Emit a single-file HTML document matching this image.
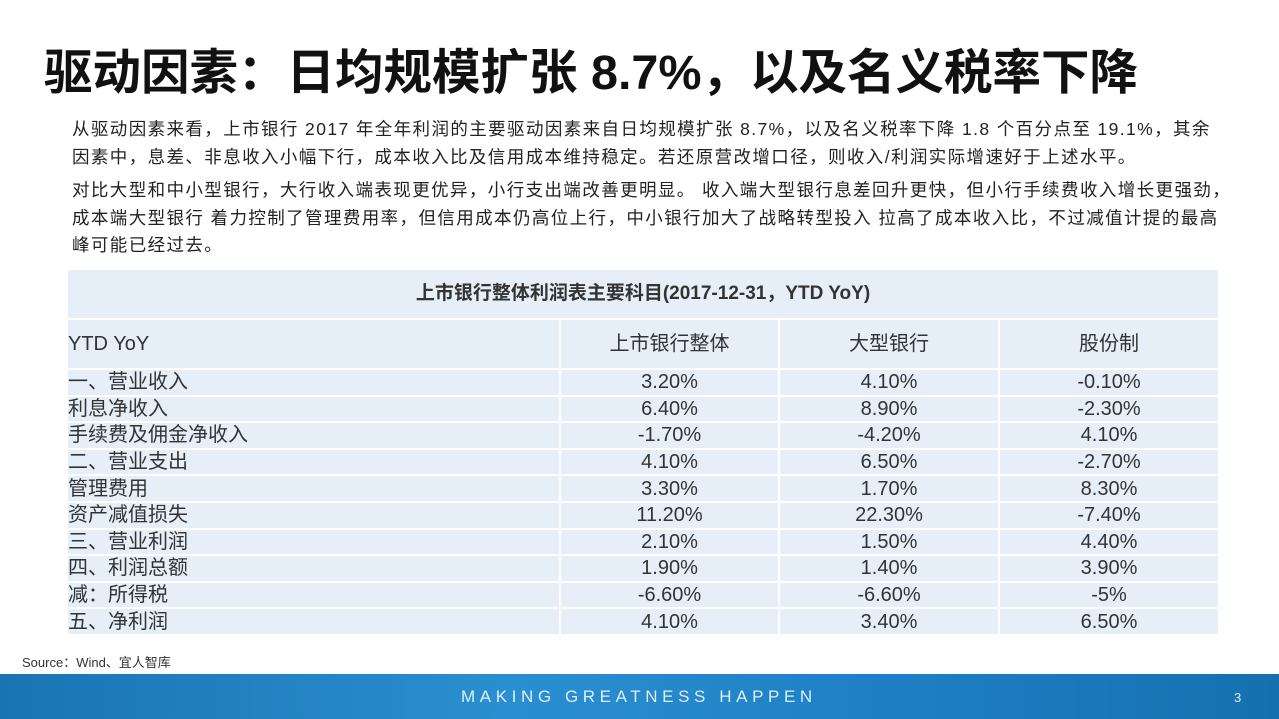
<!DOCTYPE html>
<html><head><meta charset="utf-8"><style>
body{margin:0;width:1279px;height:719px;overflow:hidden;background:#fff;font-family:"Liberation Sans","Noto Sans CJK SC",sans-serif;position:relative}
.t{position:absolute;left:44px;top:33px;font-size:48.5px;font-weight:bold;color:#111;white-space:nowrap}
.p{position:absolute;left:72px;font-size:17.5px;color:#222;line-height:27.5px;white-space:nowrap;letter-spacing:1.4px}
table{position:absolute;left:68px;top:270px;width:1150px;border-collapse:collapse;background:#e6eef8;color:#333}
td{padding:0;border-bottom:2px solid #fff;font-size:20px;height:24.6px;line-height:24px}
td+td{border-left:2px solid #fff;text-align:center}
.cap td{height:48px;text-align:center;font-weight:bold;font-size:19px}
.hd td{height:48px}
.src{position:absolute;left:22px;top:652px;font-size:13px;color:#333}
.foot{position:absolute;left:0;top:674px;width:1279px;height:45px;background:linear-gradient(90deg,#1a74b4,#2a8fd0 40%,#1e7fc4 70%,#1670b0);color:#dfeefa}
</style></head><body>
<div class="t">驱动因素：日均规模扩张 8.7%，以及名义税率下降</div>
<div class="p" style="top:116px">从驱动因素来看，上市银行 2017 年全年利润的主要驱动因素来自日均规模扩张 8.7%，以及名义税率下降 1.8 个百分点至 19.1%，其余<br>因素中，息差、非息收入小幅下行，成本收入比及信用成本维持稳定。若还原营改增口径，则收入/利润实际增速好于上述水平。</div>
<div class="p" style="top:177px">对比大型和中小型银行，大行收入端表现更优异，小行支出端改善更明显。 收入端大型银行息差回升更快，但小行手续费收入增长更强劲，<br>成本端大型银行 着力控制了管理费用率，但信用成本仍高位上行，中小银行加大了战略转型投入 拉高了成本收入比，不过减值计提的最高<br>峰可能已经过去。</div>
<table>
<colgroup><col style="width:492px"><col style="width:219px"><col style="width:220px"><col></colgroup>
<tr class="cap"><td colspan="4">上市银行整体利润表主要科目(2017-12-31，YTD YoY)</td></tr>
<tr class="hd"><td>YTD YoY</td><td>上市银行整体</td><td>大型银行</td><td>股份制</td></tr>
<tr><td>一、营业收入</td><td>3.20%</td><td>4.10%</td><td>-0.10%</td></tr>
<tr><td>利息净收入</td><td>6.40%</td><td>8.90%</td><td>-2.30%</td></tr>
<tr><td>手续费及佣金净收入</td><td>-1.70%</td><td>-4.20%</td><td>4.10%</td></tr>
<tr><td>二、营业支出</td><td>4.10%</td><td>6.50%</td><td>-2.70%</td></tr>
<tr><td>管理费用</td><td>3.30%</td><td>1.70%</td><td>8.30%</td></tr>
<tr><td>资产减值损失</td><td>11.20%</td><td>22.30%</td><td>-7.40%</td></tr>
<tr><td>三、营业利润</td><td>2.10%</td><td>1.50%</td><td>4.40%</td></tr>
<tr><td>四、利润总额</td><td>1.90%</td><td>1.40%</td><td>3.90%</td></tr>
<tr><td>减：所得税</td><td>-6.60%</td><td>-6.60%</td><td>-5%</td></tr>
<tr><td style="border-bottom:none">五、净利润</td><td style="border-bottom:none">4.10%</td><td style="border-bottom:none">3.40%</td><td style="border-bottom:none">6.50%</td></tr>
</table>
<div class="src">Source：Wind、宜人智库</div>
<div class="foot">
<div style="position:absolute;left:461px;top:13px;font-size:17px;letter-spacing:4.6px">MAKING GREATNESS HAPPEN</div>
<div style="position:absolute;left:1234px;top:16px;font-size:13px">3</div>
</div>
</body></html>
